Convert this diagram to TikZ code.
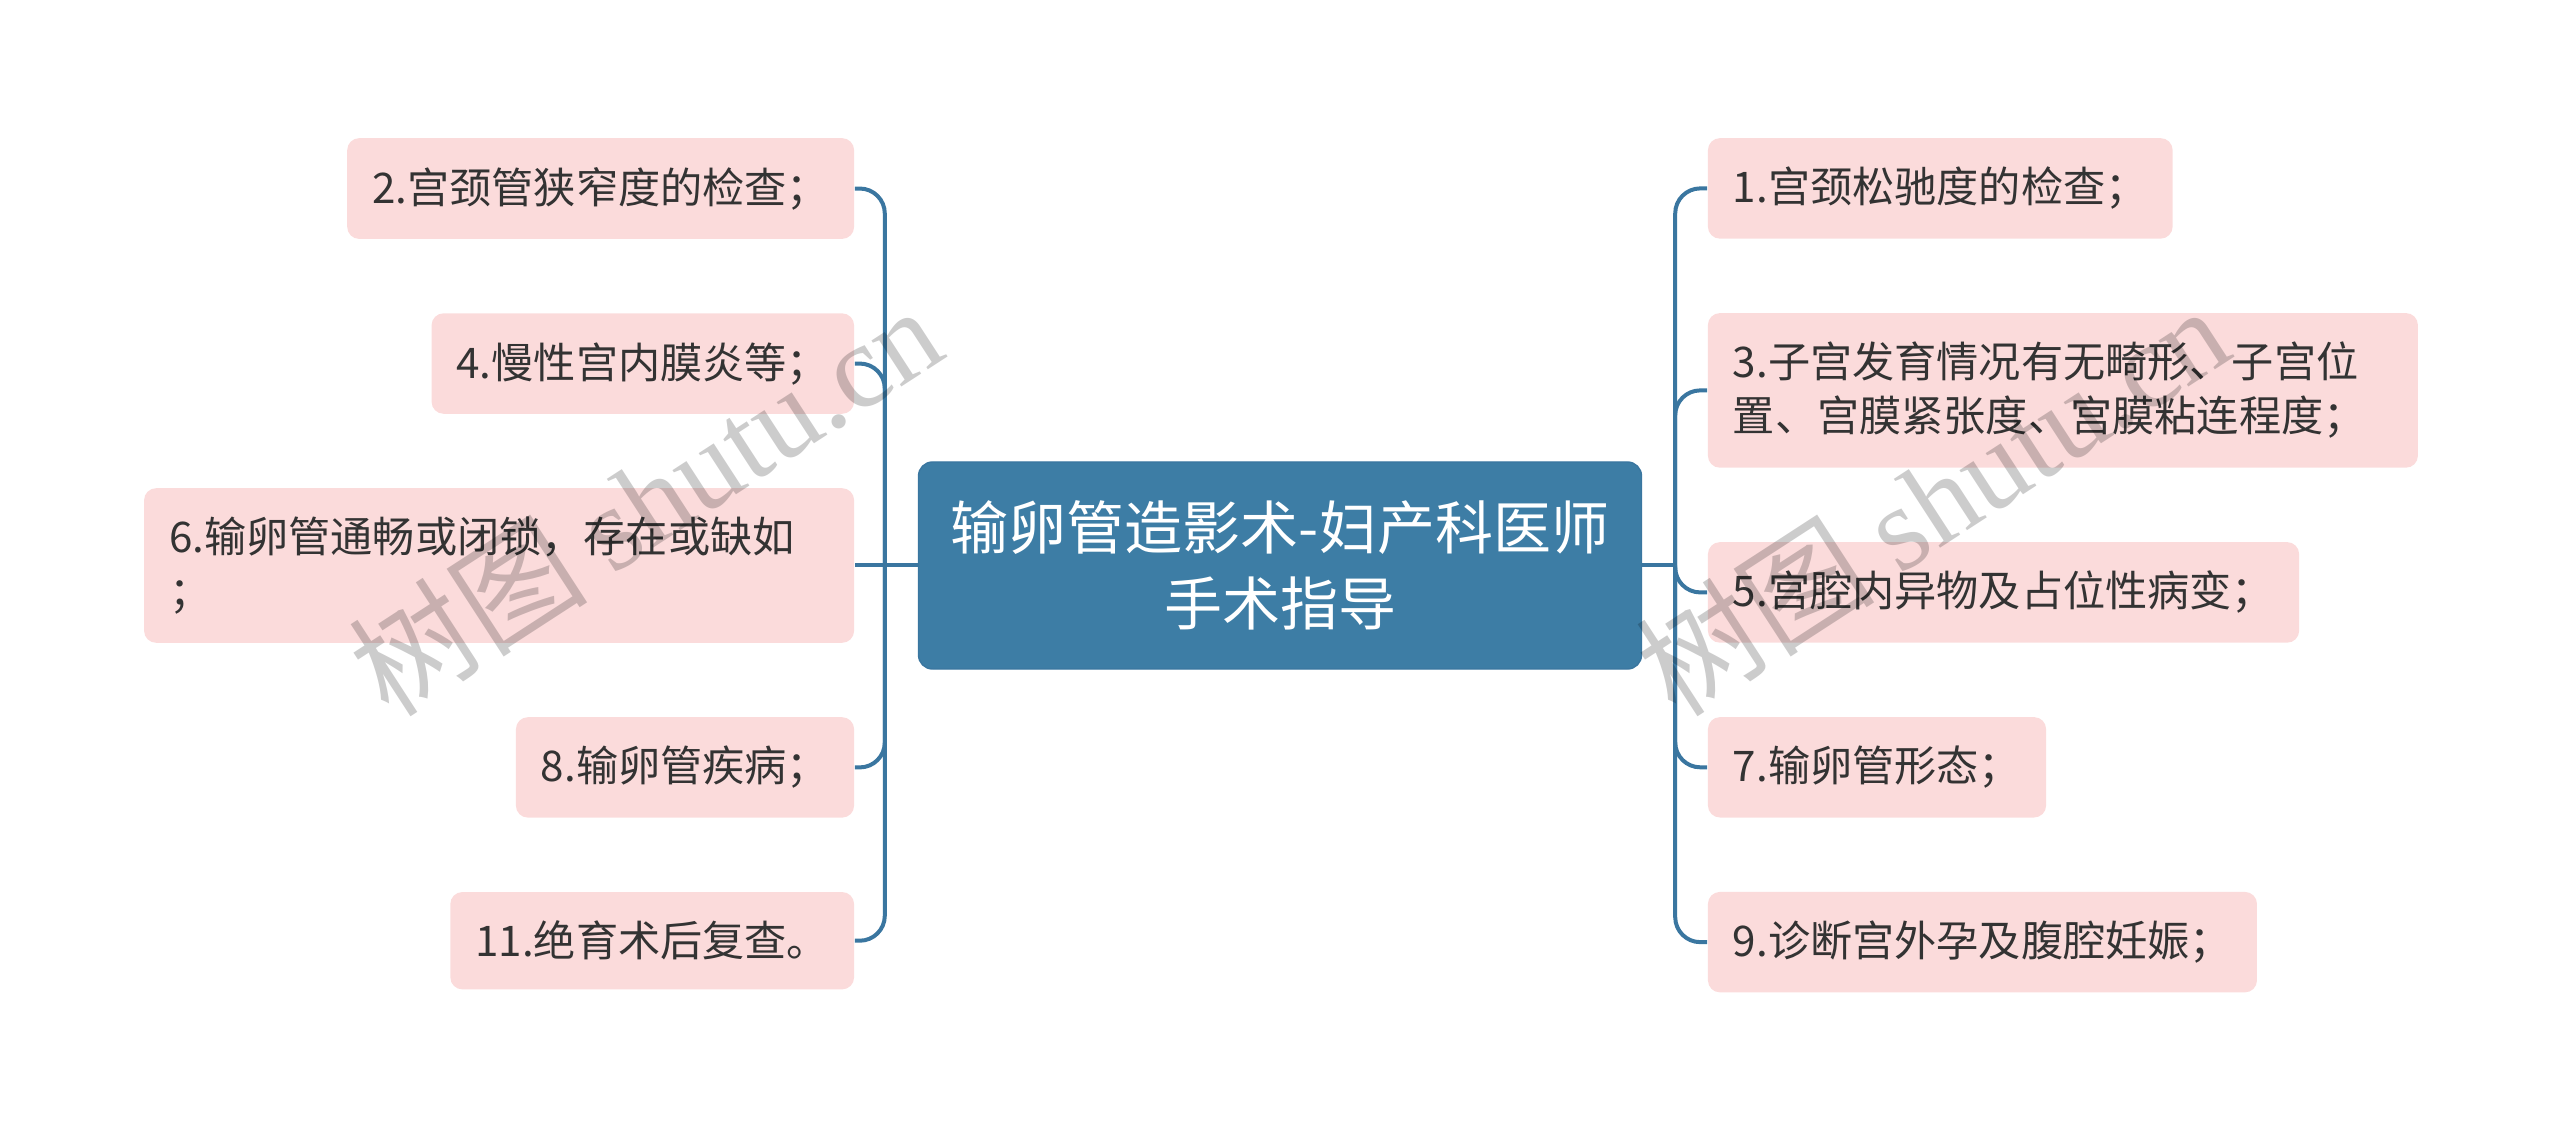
\documentclass[tikz,border=0pt]{standalone}
\usepackage{fontspec}
\setmainfont{Noto Sans CJK SC}
\newfontfamily\marcafont{Liberation Serif}
\usepackage{tikz}
\usetikzlibrary{positioning}
\usepackage{xcolor}
\definecolor{TemaAzul}{RGB}{61,125,165}
\definecolor{TemaLinea}{RGB}{58,118,160}
\definecolor{TemaRosa}{RGB}{251,219,219}
\definecolor{TemaTexto}{RGB}{51,51,51}

\begin{document}
\begin{tikzpicture}[font=\fontsize{12}{15.4}\selectfont,
  hoja/.style={rectangle, fill=TemaRosa, rounded corners=0.12cm, text=TemaTexto, align=left, inner xsep=0.25cm, inner ysep=0.29cm},
  raiz/.style={rectangle, draw=TemaLinea, fill=TemaAzul, rounded corners=0.14cm, text=white, align=center, minimum width=7.23cm, minimum height=2.07cm, font=\fontsize{16.5}{21.8}\selectfont},
  rama/.style={draw=TemaLinea, line width=0.04cm, rounded corners=0.25cm},
  marca/.style={text=black, text opacity=0.2, rotate=33, font=\fontsize{34}{34}\selectfont}]
  \useasboundingbox (0,0) rectangle (25.6,-11.32);

  \node[raiz] (C) at (12.8,-5.655) {输卵管造影术-妇产科医师\\手术指导};

  \node[hoja, text width=6.6cm, left=0.63cm of C] (L6) {6.输卵管通畅或闭锁，存在或缺如\\；};
  \node[hoja, above=0.73cm of L6.north east, anchor=south east] (L4) {4.慢性宫内膜炎等；};
  \node[hoja, above=0.73cm of L4.north east, anchor=south east] (L2) {2.宫颈管狭窄度的检查；};
  \node[hoja, below=0.73cm of L6.south east, anchor=north east] (L8) {8.输卵管疾病；};
  \node[hoja, below=0.73cm of L8.south east, anchor=north east] (L11) {11.绝育术后复查。};

  \node[hoja, anchor=north west] (R1) at ([xshift=0.65cm]C.east |- L2.north) {1.宫颈松驰度的检查；};
  \node[hoja, text width=6.6cm, below=0.73cm of R1.south west, anchor=north west] (R3) {3.子宫发育情况有无畸形、子宫位\\置、宫膜紧张度、宫膜粘连程度；};
  \node[hoja, below=0.73cm of R3.south west, anchor=north west] (R5) {5.宫腔内异物及占位性病变；};
  \node[hoja, below=0.73cm of R5.south west, anchor=north west] (R7) {7.输卵管形态；};
  \node[hoja, below=0.73cm of R7.south west, anchor=north west] (R9) {9.诊断宫外孕及腹腔妊娠；};

  \coordinate[left=0.33cm of C] (jl);
  \coordinate[right=0.33cm of C] (jr);
  \draw[rama] (C.west) -- (jl);
  \draw[rama] (jl) |- (L2.east);
  \draw[rama] (jl) |- (L4.east);
  \draw[rama] (jl) -- (L6.east);
  \draw[rama] (jl) |- (L8.east);
  \draw[rama] (jl) |- (L11.east);
  \draw[rama] (C.east) -- (jr);
  \draw[rama] (jr) |- (R1.west);
  \draw[rama] (jr) |- (R3.west);
  \draw[rama] (jr) |- (R5.west);
  \draw[rama] (jr) |- (R7.west);
  \draw[rama] (jr) |- (R9.west);

  \node[marca] (m1) at (6.45,-5.0) {树图 {\marcafont shutu.cn}};
  \node[marca] (m2) at (19.32,-5.0) {树图 {\marcafont shutu.cn}};
\end{tikzpicture}
\end{document}
